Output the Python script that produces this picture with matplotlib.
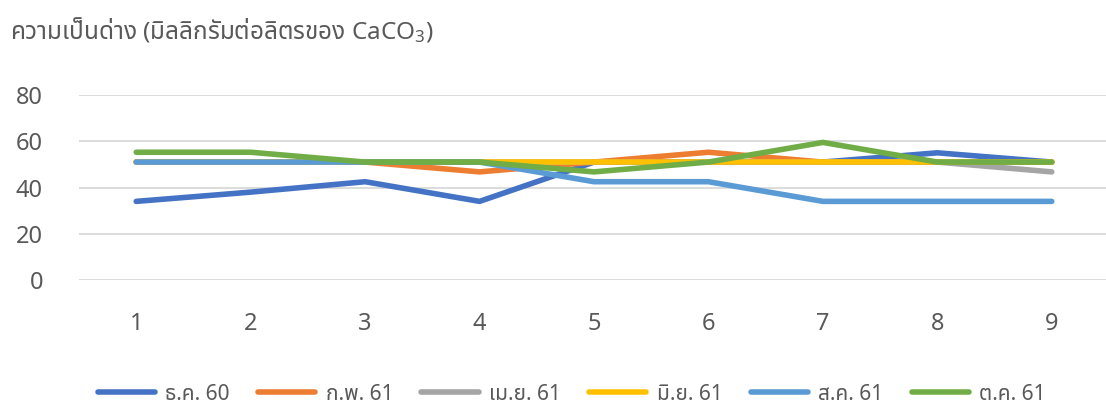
import matplotlib
matplotlib.use("Agg")
import matplotlib.pyplot as plt

# === ข้อมูล ===
points = [1, 2, 3, 4, 5, 6, 7, 8, 9]
series_names = ["ธ.ค. 60", "ก.พ. 61", "เม.ย. 61", "มิ.ย. 61", "ส.ค. 61", "ต.ค. 61"]
dec60 = [34, 38, 42.5, 34, 51, 51, 51, 55, 51]
feb61 = [51, 51, 51, 46.75, 51, 55.25, 51, 51, 51]
apr61 = [51, 51, 51, 51, 51, 51, 51, 51, 46.75]
jun61 = [51, 51, 51, 51, 51, 51, 51, 51, 51]
aug61 = [51, 51, 51, 51, 42.5, 42.5, 34, 34, 34]
oct61 = [55.25, 55.25, 51, 51, 46.75, 51, 59.5, 51, 51]
y_ticks = [0, 20, 40, 60, 80]

colors = ["#4472C4", "#ED7D31", "#A5A5A5", "#FFC000", "#5B9BD5", "#70AD47"]
all_series = [dec60, feb61, apr61, jun61, aug61, oct61]

plt.rcParams['font.family'] = ['Noto Sans Thai', 'Sarabun', 'DejaVu Sans']
plt.rcParams['font.weight'] = 'light'
plt.rcParams['mathtext.fontset'] = 'custom'
plt.rcParams['mathtext.rm'] = 'Noto Sans:light'
plt.rcParams['mathtext.it'] = 'Noto Sans:light'
text_color = "#595959"

fig = plt.figure(figsize=(11.06, 4.07), dpi=100)
ax = fig.add_axes([79 / 1106, 1 - 280 / 407, 1030 / 1106, 185 / 407])

for vals, name, c in zip(all_series, series_names, colors):
    ax.plot(points, vals, color=c, linewidth=4, solid_capstyle='round',
            solid_joinstyle='round', label=name)

ax.set_xlim(0.5, 9.5)
ax.set_ylim(0, 80)
ax.set_xticks(points)
ax.set_yticks(y_ticks)
ax.yaxis.grid(True, color="#D9D9D9", linewidth=1.3)
ax.set_axisbelow(True)
for s in ax.spines.values():
    s.set_visible(False)
ax.tick_params(axis='both', length=0, labelsize=17, colors=text_color)
ax.tick_params(axis='y', pad=26)
ax.tick_params(axis='x', pad=23)

fig.text(10 / 1106, 1 - 30 / 407, "ความเป็นด่าง (มิลลิกรัมต่อลิตรของ CaCO$_3$)",
         fontsize=17.5, color=text_color, va='center', ha='left')

fig.legend(loc='center', bbox_to_anchor=(0.517, 1 - 394 / 407), ncol=6,
           frameon=False, fontsize=15, labelcolor=text_color,
           handlelength=2.75, columnspacing=1.35, handletextpad=0.5)

plt.savefig("out.png", dpi=100)
